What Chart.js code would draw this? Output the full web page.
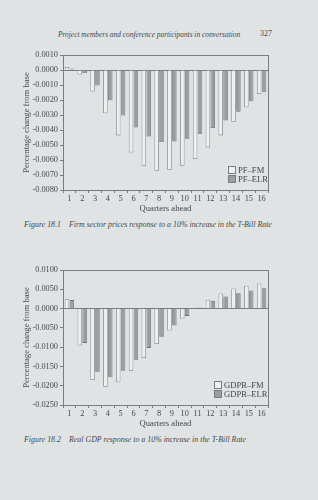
<!DOCTYPE html>
<html>
<head>
<meta charset="utf-8">
<script src="https://cdn.jsdelivr.net/npm/chart.js@4"></script>
<style>
  html, body { margin: 0; padding: 0; }
  body {
    width: 318px; height: 500px; position: relative; overflow: hidden;
    background: #dfe3e4; color: #45484b;
    font-family: "Liberation Serif", "DejaVu Serif", serif;
  }
  .abs { position: absolute; white-space: nowrap; }
  .head { font-style: italic; font-size: 7.4px; }
  .cap { font-style: italic; font-size: 7.9px; left: 24px; }
  .cap span { display: inline-block; width: 45px; }
  canvas { position: absolute; left: 0; }
  .legend { font-size: 8.6px; line-height: 9px; }
  .legend i {
    display: inline-block; width: 6px; height: 6px; margin-right: 2px;
    border: 1px solid #7a7d80; vertical-align: -1px;
  }
</style>
</head>
<body>
<div class="abs head" style="left:58px; top:30px;">Project members and conference participants in conversation</div>
<div class="abs head" style="left:260px; top:29px; font-style:normal; font-size:8px;">327</div>

<canvas id="chart1" width="290" height="180" style="top:40px;"></canvas>
<div class="abs legend" id="legend1" style="left:228px; top:166px;"></div>
<div class="abs cap" style="top:220px;"><span>Figure 18.1</span>Firm sector prices response to a 10% increase in the T-Bill Rate</div>

<canvas id="chart2" width="290" height="180" style="top:255px;"></canvas>
<div class="abs legend" id="legend2" style="left:214px; top:381px;"></div>
<div class="abs cap" style="top:435px;"><span>Figure 18.2</span>Real GDP response to a 10% increase in the T-Bill Rate</div>

<script>
// quarters 1..16
const quarters = ["1","2","3","4","5","6","7","8","9","10","11","12","13","14","15","16"];

// Figure 18.1 firm sector prices
const pfFM  = [0.0002, -0.0003, -0.00144, -0.00289, -0.00436, -0.0055, -0.00638, -0.00672,
               -0.00667, -0.00638, -0.00593, -0.00516, -0.00436, -0.00347, -0.00249, -0.0016];
const pfELR = [0.0001, -0.0002, -0.00104, -0.00202, -0.00304, -0.00384, -0.00444, -0.0048,
               -0.00476, -0.00458, -0.00427, -0.00387, -0.00336, -0.00278, -0.00209, -0.00149];

// Figure 18.2 real GDP
const gdpFM  = [0.0024, -0.0096, -0.0185, -0.0203, -0.0191, -0.0162, -0.0128, -0.0092,
                -0.0057, -0.0026, 0.0002, 0.0023, 0.0039, 0.0052, 0.0059, 0.0065];
const gdpELR = [0.0022, -0.0089, -0.0164, -0.0178, -0.0161, -0.0134, -0.0102, -0.0073,
                -0.0044, -0.0019, 0.0003, 0.0020, 0.0031, 0.0040, 0.0047, 0.0053];

const INK = "#45484b";
const LINE = "#7a7d80";
const LIGHT = "#eef0f0";
const DARK = "#9b9ea1";

// box round the plot
const frame = {
  id: "frame",
  afterDraw(chart) {
    const { ctx, chartArea: a } = chart;
    ctx.save();
    ctx.strokeStyle = LINE;
    ctx.lineWidth = 1;
    ctx.strokeRect(Math.round(a.left) + 0.5, Math.round(a.top) + 0.5,
      Math.round(a.right - a.left), Math.round(a.bottom - a.top));
    ctx.restore();
  }
};

function makeChart(id, labels, fm, elr, yMin, yMax, step) {
  const font = { family: "'Liberation Serif', serif", size: 8.3 };
  return new Chart(document.getElementById(id), {
    type: "bar",
    data: {
      labels: quarters,
      datasets: [
        { label: labels[0], data: fm, backgroundColor: LIGHT, borderColor: LINE, borderWidth: 0.8 },
        { label: labels[1], data: elr, backgroundColor: DARK, borderColor: "#6d7073", borderWidth: 0.8 },
      ],
    },
    options: {
      responsive: false,
      animation: false,
      devicePixelRatio: 1,
      categoryPercentage: 0.76,
      barPercentage: 0.92,
      layout: { padding: { top: 15, right: 22, left: 18, bottom: 0 } },
      plugins: { legend: { display: false }, tooltip: { enabled: false } },
      scales: {
        x: {
          afterFit: (s) => { s.height = 30; },
          border: { color: LINE },
          grid: { color: "transparent", tickColor: LINE, tickLength: 3, offset: true },
          ticks: { color: INK, font, padding: 1, maxRotation: 0, autoSkip: false },
          title: { display: true, text: "Quarters ahead", color: INK,
                   font: { family: font.family, size: 8.6 }, padding: { top: 0, bottom: 6 } },
        },
        y: {
          min: yMin, max: yMax,
          afterFit: (s) => { s.width = 45; },
          border: { color: LINE },
          grid: {
            color: (c) => (c.tick && Math.abs(c.tick.value) < 1e-9 ? LINE : "transparent"),
            tickColor: LINE, tickLength: 3,
          },
          ticks: { stepSize: step, color: INK, font, padding: 2,
                   callback: (v) => v.toFixed(4) },
          title: { display: true, text: "Percentage change from base", color: INK,
                   font: { family: font.family, size: 8.6 }, padding: { top: 4, bottom: 0 } },
        },
      },
    },
    plugins: [frame],
  });
}

function makeLegend(id, labels) {
  const el = document.getElementById(id);
  el.innerHTML = labels.map((t, i) =>
    `<div><i style="background:${i ? DARK : LIGHT}"></i>${t}</div>`).join("");
}

const labels1 = ["PF\u2013FM", "PF\u2013ELR"];
const labels2 = ["GDPR\u2013FM", "GDPR\u2013ELR"];

makeChart("chart1", labels1, pfFM, pfELR, -0.008, 0.001, 0.001);
makeChart("chart2", labels2, gdpFM, gdpELR, -0.025, 0.01, 0.005);
makeLegend("legend1", labels1);
makeLegend("legend2", labels2);
</script>
</body>
</html>
